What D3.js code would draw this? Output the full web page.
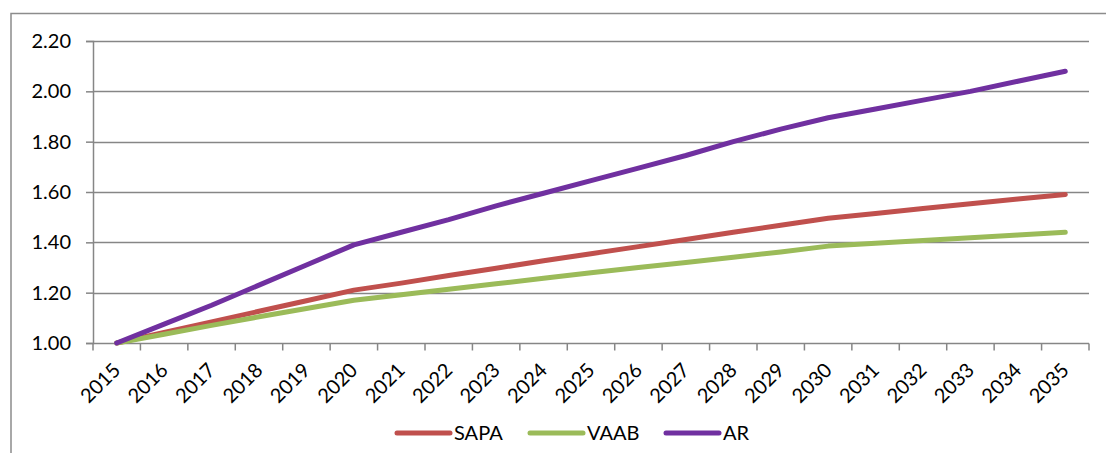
<!DOCTYPE html>
<html>
<head>
<meta charset="utf-8">
<script src="https://cdn.jsdelivr.net/npm/d3@7"></script>
<style>
  body { margin: 0; background: #fff; }
  text { font-family: Lato, "Open Sans", sans-serif; fill: #000; }
</style>
</head>
<body>
<div id="canvas"></div>
<script>
// years on the x axis
var years = ["2015","2016","2017","2018","2019","2020","2021","2022","2023","2024","2025",
             "2026","2027","2028","2029","2030","2031","2032","2033","2034","2035"];

// series values
var sapa = [1.000,1.042,1.084,1.126,1.168,1.210,1.238,1.268,1.297,1.327,1.355,
            1.383,1.411,1.440,1.468,1.496,1.515,1.534,1.553,1.572,1.590];
var vaab = [1.000,1.035,1.070,1.104,1.137,1.170,1.192,1.214,1.235,1.257,1.279,
            1.300,1.320,1.341,1.362,1.385,1.396,1.407,1.418,1.429,1.440];
var ar   = [1.000,1.075,1.150,1.230,1.310,1.390,1.440,1.490,1.545,1.595,1.645,
            1.695,1.745,1.800,1.850,1.895,1.930,1.965,2.000,2.040,2.080];

var seriesNames  = ["SAPA","VAAB","AR"];
var seriesColors = ["#c0504d","#9bbb59","#7030a0"];
var yTicks = [1.0,1.2,1.4,1.6,1.8,2.0,2.2];

var width = 1106, height = 453;
var margin = {top: 41, right: 17, bottom: 110, left: 93};

var svg = d3.select("#canvas").append("svg")
  .attr("width", width)
  .attr("height", height);

// outer chart border (only top + left visible in the crop)
svg.append("path")
  .attr("d", "M11," + height + "V13.5H" + width)
  .attr("fill", "none")
  .attr("stroke", "#8c8c8c")
  .attr("stroke-width", 1.5);

var x = d3.scaleBand()
  .domain(years)
  .range([margin.left, width - margin.right])
  .paddingInner(0).paddingOuter(0);

var y = d3.scaleLinear()
  .domain([1.0, 2.2])
  .range([height - margin.bottom, margin.top]);

var gridColor = "#868686";

// horizontal gridlines
svg.append("g").selectAll("line")
  .data(yTicks.slice(1))
  .enter().append("line")
    .attr("x1", margin.left).attr("x2", width - margin.right)
    .attr("y1", function(d){ return Math.round(y(d)) + 0.5; })
    .attr("y2", function(d){ return Math.round(y(d)) + 0.5; })
    .attr("stroke", gridColor).attr("stroke-width", 1.5);

// y axis
var yAxis = svg.append("g")
  .attr("transform", "translate(" + margin.left + ",0)")
  .call(d3.axisLeft(y).tickValues(yTicks).tickFormat(d3.format(".2f")).tickSize(7).tickPadding(15));
yAxis.select(".domain").attr("stroke", gridColor).attr("stroke-width", 1.5);
yAxis.selectAll(".tick line").attr("stroke", gridColor).attr("stroke-width", 1.5);
yAxis.selectAll("text").attr("font-size", 20).attr("fill", "#000")
  .style("font-family", "Lato, 'Open Sans', sans-serif");

// x axis line + ticks at band edges
var y0 = Math.round(y(1.0)) + 0.5;
svg.append("line")
  .attr("x1", margin.left).attr("x2", width - margin.right)
  .attr("y1", y0).attr("y2", y0)
  .attr("stroke", gridColor).attr("stroke-width", 1.5);

var edges = years.map(function(d){ return x(d); }).concat([width - margin.right]);
svg.append("g").selectAll("line")
  .data(edges)
  .enter().append("line")
    .attr("x1", function(d){ return d; }).attr("x2", function(d){ return d; })
    .attr("y1", y0).attr("y2", y0 + 7)
    .attr("stroke", gridColor).attr("stroke-width", 1.5);

// rotated year labels
svg.append("g").selectAll("text")
  .data(years)
  .enter().append("text")
    .attr("transform", function(d){
      return "translate(" + (x(d) + x.bandwidth() / 2) + "," + (y0 + 23) + ") rotate(-45)";
    })
    .attr("text-anchor", "end")
    .attr("dy", "0.35em")
    .attr("font-size", 20)
    .text(function(d){ return d; });

// lines
var allSeries = [sapa, vaab, ar];
var line = d3.line()
  .x(function(d, i){ return x(years[i]) + x.bandwidth() / 2; })
  .y(function(d){ return y(d); });

svg.append("g").selectAll("path")
  .data(allSeries)
  .enter().append("path")
    .attr("d", line)
    .attr("fill", "none")
    .attr("stroke", function(d, i){ return seriesColors[i]; })
    .attr("stroke-width", 5)
    .attr("stroke-linejoin", "round")
    .attr("stroke-linecap", "round");

// legend
var legendX = [397, 530, 666];
var legend = svg.append("g").selectAll("g")
  .data(seriesNames)
  .enter().append("g")
    .attr("transform", function(d, i){ return "translate(" + legendX[i] + ",433)"; });
legend.append("line")
  .attr("x1", 0).attr("x2", 53)
  .attr("stroke", function(d, i){ return seriesColors[i]; })
  .attr("stroke-width", 5)
  .attr("stroke-linecap", "round");
legend.append("text")
  .attr("x", 57).attr("dy", "0.35em")
  .attr("font-size", 20)
  .text(function(d){ return d; });
</script>
</body>
</html>
